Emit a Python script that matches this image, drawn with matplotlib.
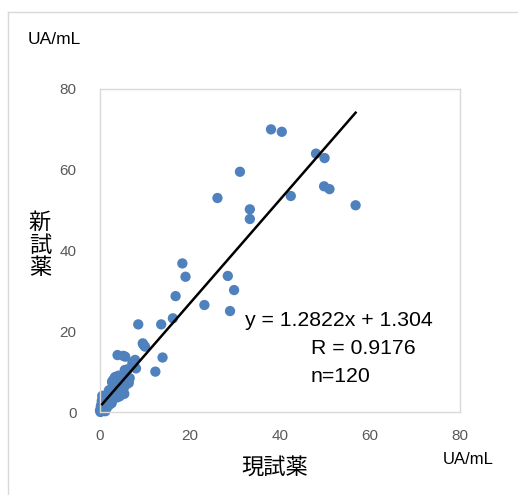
import matplotlib
matplotlib.use('Agg')
import matplotlib.pyplot as plt
from matplotlib.lines import Line2D
import numpy as np

plt.rcParams['font.family'] = ['Liberation Sans', 'Noto Sans CJK JP', 'DejaVu Sans']

# --- データ (現試薬 vs 新試薬, UA/mL) ---
x_current = [
    38.0, 40.4, 48.0, 49.9, 31.1, 26.1, 42.4, 49.8, 51.0, 56.8,
    33.3, 33.3, 18.3, 19.0, 28.4, 29.8, 16.8, 23.2, 28.9, 16.2,
    8.5, 13.6, 9.5, 10.0, 13.9, 3.9, 5.2, 7.8, 7.2, 8.0,
    5.5, 12.3, 3.5, 6.1, 2.7, 6.2, 7.4, 5.6, 9.7, 7.5,
    6.4, 2.9, 5.1,
    0.3, 0.5, 0.2, 0.8, 1.0, 0.4, 1.2, 0.6, 1.5, 0.9,
    1.8, 0.3, 0.7, 1.1, 1.4, 2.0, 0.5, 1.6, 2.2, 0.2,
    0.8, 1.3, 2.5, 2.8, 1.9, 0.6, 0.4, 1.0, 3.0, 2.4,
    3.2, 3.6, 1.7, 2.1, 2.6, 3.4, 4.0, 4.5, 3.8, 4.2,
    5.0, 2.9, 3.5, 4.3, 5.3, 3.1, 4.6, 5.8, 6.2, 3.9,
    2.7, 4.9, 5.6, 6.6, 4.1, 3.3, 0.1, 0.0, 1.2, 0.9,
    1.5, 2.3, 0.4, 0.7, 1.1, 3.7, 4.4, 2.0, 1.3, 0.6,
    2.8, 3.0, 0.2, 0.5, 1.8, 5.4, 4.8,
]
y_new = [
    70.0, 69.4, 64.0, 62.9, 59.5, 53.0, 53.5, 55.9, 55.2, 51.2,
    50.2, 47.8, 36.8, 33.5, 33.7, 30.2, 28.7, 26.5, 25.0, 23.2,
    21.7, 21.7, 17.0, 16.2, 13.5, 14.1, 13.9, 12.9, 12.2, 10.8,
    10.4, 10.0, 8.7, 7.4, 7.5, 10.6, 11.6, 13.7, 16.6, 12.5,
    7.2, 7.9, 7.4,
    0.2, 0.8, 1.5, 0.5, 1.2, 2.2, 2.0, 3.0, 1.0, 2.6,
    2.4, 0.6, 1.8, 3.4, 2.9, 3.2, 4.0, 3.8, 2.5, 1.0,
    3.6, 4.2, 3.0, 4.0, 4.6, 0.3, 2.8, 0.6, 3.5, 4.8,
    4.4, 5.0, 1.6, 1.8, 2.2, 3.8, 4.2, 4.8, 3.6, 5.6,
    5.2, 5.8, 6.2, 6.6, 6.0, 7.0, 7.2, 6.8, 7.6, 7.8,
    7.4, 8.2, 8.8, 8.4, 9.0, 8.6, 0.0, 0.4, 0.2, 0.9,
    1.9, 2.7, 1.3, 2.4, 1.5, 4.6, 3.9, 5.4, 3.1, 1.1,
    5.1, 6.4, 0.7, 1.4, 3.3, 4.5, 5.9,
]
slope = 1.2822
intercept = 1.304
r_value = 0.9176
n_total = 120

x_ticks = [0, 20, 40, 60, 80]
y_ticks = [0, 20, 40, 60, 80]

W, H = 518, 495
fig = plt.figure(figsize=(W / 100, H / 100), dpi=100)
ax = fig.add_axes([100 / W, (H - 412) / H, 360 / W, 323 / H])

ax.scatter(x_current, y_new, s=55, color='#4F81BD', edgecolors='none', zorder=2, clip_on=False)

xs = np.array([min(x_current) + 0.5, max(x_current)])
ax.plot(xs, slope * xs + intercept, color='black', lw=1.8, zorder=3)

ax.set_xlim(0, 80)
ax.set_ylim(0, 80)
ax.set_xticks(x_ticks)
ax.set_yticks(y_ticks)
ax.tick_params(length=0, labelsize=11, colors='#595959')
ax.tick_params(axis='y', pad=17)
ax.tick_params(axis='x', pad=12)
for sp in ax.spines.values():
    sp.set_color('#D9D9D9')
    sp.set_linewidth(1.0)

ax.text(245 / W, 1 - 321 / H, f'y = {slope}x + {intercept}', transform=fig.transFigure,
        fontsize=15.3, va='center', ha='left')
ax.text(311 / W, 1 - 348 / H, f'R = {r_value}', transform=fig.transFigure,
        fontsize=15.3, va='center', ha='left')
ax.text(311 / W, 1 - 377 / H, f'n={n_total}', transform=fig.transFigure,
        fontsize=15.3, va='center', ha='left')

# 単位・軸ラベル
fig.text(28 / W, 1 - 40 / H, 'UA/mL', fontsize=12.5, va='center', ha='left')
fig.text(443 / W, 1 - 459 / H, 'UA/mL', fontsize=12, va='center', ha='left')
fig.text(40 / W, 1 - 245 / H, '新\n試\n薬', fontsize=16, va='center', ha='center',
         family=['Noto Sans CJK JP'], linespacing=1.0)
fig.text(275 / W, 1 - 467 / H, '現試薬', fontsize=16, va='center', ha='center',
         family=['Noto Sans CJK JP'])

# 外枠
fig.add_artist(Line2D([8 / W, 1], [1 - 12 / H, 1 - 12 / H], color='#D9D9D9', lw=1.0))
fig.add_artist(Line2D([8 / W, 8 / W], [0, 1 - 12 / H], color='#D9D9D9', lw=1.0))

fig.savefig('out.png', dpi=100)
